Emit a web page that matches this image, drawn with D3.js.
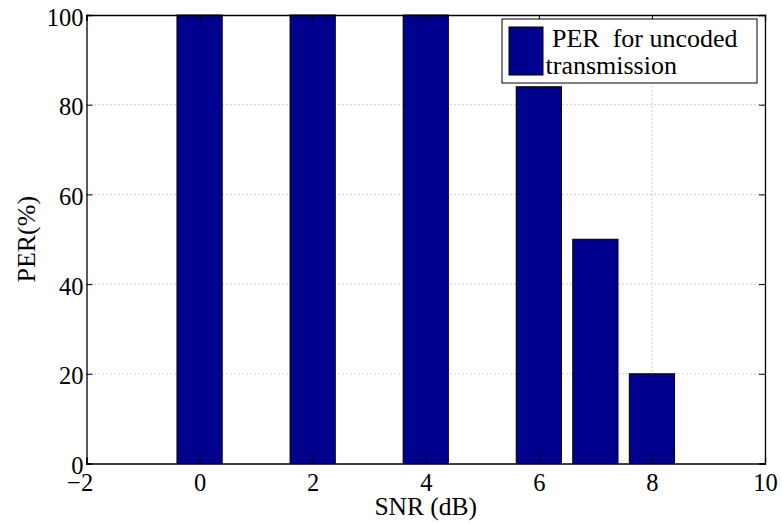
<!DOCTYPE html>
<html>
<head>
<meta charset="utf-8">
<script src="https://cdn.jsdelivr.net/npm/d3@7"></script>
<style>
  html, body { margin: 0; padding: 0; background: #fff; }
  svg { display: block; }
  svg text { font-family: "Liberation Serif", "Times New Roman", Tinos, serif; fill: #000; }
</style>
</head>
<body>
<svg id="chart" width="782" height="524"></svg>
<script>
// SNR values (dB) and packet error rate (%) for uncoded transmission
const snrValues = [0, 2, 4, 6, 7, 8];
const perValues = [100, 100, 100, 84, 50, 20];
const xTicks = [-2, 0, 2, 4, 6, 8, 10];
const yTicks = [0, 20, 40, 60, 80, 100];
const legendLines = ["PER\u00a0 for uncoded", "transmission"];

const svg = d3.select("#chart");
const margin = { left: 86.5, right: 17, top: 15, bottom: 60.5 };
const W = 782, H = 524;
const x = d3.scaleLinear().domain([-2, 10]).range([margin.left, W - margin.right]);
const y = d3.scaleLinear().domain([0, 100]).range([H - margin.bottom, margin.top]);
const barW = x(0.8) - x(0);
const fill = "#00008f";
const serif = '"Liberation Serif", "Times New Roman", Tinos, serif';
const tickFont = 24.5;

// dotted grid
const grid = svg.append("g").attr("stroke", "#a0a0a0").attr("stroke-width", 1).attr("stroke-dasharray", "1,3");
grid.selectAll("line.gy").data(yTicks.slice(1, -1)).join("line")
  .attr("x1", x(-2)).attr("x2", x(10)).attr("y1", d => y(d)).attr("y2", d => y(d));
grid.selectAll("line.gx").data(xTicks.slice(1, -1)).join("line")
  .attr("y1", y(0)).attr("y2", y(100)).attr("x1", d => x(d)).attr("x2", d => x(d));

// bars
svg.append("g").selectAll("rect").data(snrValues).join("rect")
  .attr("x", (d) => x(d) - barW / 2)
  .attr("width", barW)
  .attr("y", (d, i) => y(perValues[i]))
  .attr("height", (d, i) => y(0) - y(perValues[i]))
  .attr("fill", fill)
  .attr("stroke", "#000")
  .attr("stroke-width", 1);

// axes with inward ticks on all four sides
const tickLen = 6;
const axes = svg.append("g");
const xBottom = axes.append("g").attr("transform", `translate(0,${y(0)})`)
  .call(d3.axisBottom(x).tickValues(xTicks).tickSize(-tickLen)
    .tickFormat(d => d < 0 ? "\u2212" + Math.abs(d) : d));
axes.append("g").attr("transform", `translate(0,${y(100)})`)
  .call(d3.axisTop(x).tickValues(xTicks).tickSize(-tickLen).tickFormat(""));
const yLeft = axes.append("g").attr("transform", `translate(${x(-2)},0)`)
  .call(d3.axisLeft(y).tickValues(yTicks).tickSize(-tickLen).tickPadding(3));
axes.append("g").attr("transform", `translate(${x(10)},0)`)
  .call(d3.axisRight(y).tickValues(yTicks).tickSize(-tickLen).tickFormat(""));
axes.selectAll(".domain").attr("stroke", "#000").attr("stroke-width", 1.3);
axes.selectAll(".tick line").attr("stroke", "#000");
axes.selectAll("g").attr("font-family", null).attr("font-size", null);
axes.selectAll("text").style("font-family", serif).style("font-size", tickFont + "px").attr("fill", "#000");
// x labels: baseline below axis; a minus sign hangs to the left of the digits
xBottom.selectAll(".tick text").attr("y", 27.5).attr("dy", 0)
  .attr("x", d => d < 0 ? -0.282 * tickFont : 0);
yLeft.selectAll(".tick text").attr("dy", "0.41em");

// axis titles
svg.append("text").attr("x", (x(-2) + x(10)) / 2).attr("y", 515)
  .attr("text-anchor", "middle").style("font-size", "25.5px").text("SNR (dB)");
svg.append("text").attr("transform", `translate(35,${(y(0) + y(100)) / 2}) rotate(-90)`)
  .attr("text-anchor", "middle").style("font-size", "26px").text("PER(%)");

// legend
const lg = svg.append("g");
lg.append("rect").attr("x", 502).attr("y", 19).attr("width", 255).attr("height", 64)
  .attr("fill", "#fff").attr("stroke", "#000").attr("stroke-width", 1);
lg.append("rect").attr("x", 509).attr("y", 27).attr("width", 34).attr("height", 48)
  .attr("fill", fill).attr("stroke", "#000").attr("stroke-width", 1);
lg.append("text").attr("x", 552).attr("y", 46.5).style("font-size", "26px").text(legendLines[0]);
lg.append("text").attr("x", 545.5).attr("y", 73.5).style("font-size", "26px").text(legendLines[1]);
</script>
</body>
</html>
